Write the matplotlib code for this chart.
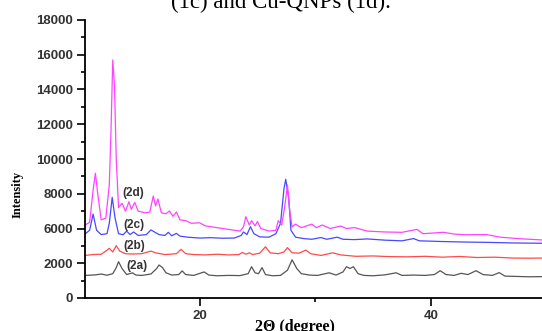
import numpy as np
import matplotlib
matplotlib.use("Agg")
from matplotlib import pyplot as plt
from matplotlib.ticker import MultipleLocator

# y values are in axis-position units (the printed tick labels skip 4000)
ytick_pos = [0, 2000, 4000, 6000, 8000, 10000, 12000, 14000, 16000]
ytick_labels = ["0", "2000", "6000", "8000", "10000", "12000", "14000", "16000", "18000"]

x_2a = [10.1, 11.0, 11.5, 12.0, 12.5, 12.8, 13.0, 13.3, 13.7, 14.2, 14.5, 15.0, 15.8, 16.3, 16.5,
        16.8, 17.1, 17.6, 18.2, 18.5, 18.8, 19.5, 20.4, 20.8, 21.5, 22.5, 23.5, 24.2, 24.5, 24.8,
        25.1, 25.4, 25.7, 26.3, 27.0, 27.6, 28.0, 28.4, 28.8, 29.5, 30.2, 31.2, 31.8, 32.4, 32.7,
        33.0, 33.3, 33.7, 34.2, 35.0, 36.0, 37.0, 37.5, 38.5, 39.5, 40.3, 40.8, 41.3, 42.0, 42.6,
        43.2, 43.9, 44.5, 45.3, 45.9, 46.4, 47.5, 48.5, 49.6]
y_2a = [1300, 1330, 1380, 1310, 1400, 1750, 2090, 1700, 1350, 1450, 1320, 1300, 1380, 1700, 1900,
        1750, 1450, 1320, 1350, 1560, 1350, 1300, 1500, 1320, 1280, 1300, 1290, 1400, 1800, 1450,
        1400, 1750, 1350, 1280, 1300, 1600, 2200, 1700, 1400, 1320, 1300, 1450, 1320, 1500, 1800,
        1700, 1800, 1400, 1300, 1280, 1330, 1450, 1300, 1320, 1300, 1350, 1570, 1350, 1300, 1420,
        1350, 1570, 1350, 1300, 1460, 1260, 1240, 1220, 1230]

x_2b = [10.1, 10.8, 11.5, 11.9, 12.2, 12.5, 12.8, 13.1, 13.6, 14.2, 15.0, 15.8, 16.2, 17.0, 18.0,
        18.4, 18.8, 19.5, 20.5, 21.5, 22.5, 23.4, 23.7, 24.0, 24.3, 24.6, 25.2, 25.7, 26.1, 26.8,
        27.3, 27.6, 28.0, 28.6, 29.2, 29.6, 30.5, 31.5, 32.2, 33.5, 35.0, 36.5, 38.0, 39.5, 41.0,
        42.5, 44.0, 45.5, 47.0, 48.5, 49.6]
y_2b = [2450, 2500, 2520, 2700, 2860, 2650, 3010, 2700, 2550, 2530, 2550, 2700, 2600, 2500, 2550,
        2800, 2550, 2500, 2480, 2520, 2480, 2500, 2620, 2520, 2600, 2500, 2580, 2950, 2600, 2550,
        2650, 2900, 2600, 2580, 2760, 2550, 2450, 2600, 2480, 2400, 2420, 2380, 2370, 2400, 2350,
        2390, 2330, 2350, 2300, 2290, 2300]

x_2c = [10.1, 10.5, 10.8, 11.1, 11.5, 12.0, 12.2, 12.45, 12.7, 13.0, 13.4, 13.7, 14.0, 14.3, 14.7,
        15.4, 15.8, 16.1, 16.5, 17.0, 17.3, 17.6, 18.0, 18.3, 19.0, 20.0, 21.0, 22.0, 23.0, 23.6,
        23.8, 24.1, 24.4, 24.7, 25.2, 26.0, 26.6, 27.0, 27.3, 27.45, 27.7, 27.9, 28.3, 29.0, 29.7,
        30.5, 31.0, 31.9, 32.4, 33.4, 34.5, 36.0, 37.5, 38.5, 39.0, 41.0, 43.0, 45.0, 47.0, 49.6]
y_2c = [3680, 3900, 4830, 3900, 3650, 3700, 4300, 5790, 4600, 3700, 3640, 3850, 3650, 3800, 3600,
        3650, 3920, 3800, 3650, 3600, 3780, 3580, 3720, 3560, 3500, 3450, 3470, 3440, 3450, 3600,
        3800, 3650, 4100, 3700, 3520, 3500, 3700, 4300, 6300, 6830, 5800, 3900, 3500, 3420, 3380,
        3480, 3380, 3500, 3380, 3360, 3400, 3330, 3290, 3420, 3290, 3250, 3220, 3200, 3170, 3150]

x_2d = [10.1, 10.5, 10.8, 11.0, 11.2, 11.5, 11.9, 12.2, 12.35, 12.5, 12.65, 12.8, 13.0, 13.3, 13.6,
        13.9, 14.1, 14.4, 14.7, 15.3, 15.7, 16.0, 16.2, 16.4, 16.7, 17.1, 17.4, 17.7, 18.0, 18.3,
        18.8, 19.3, 20.0, 20.5, 21.5, 22.5, 23.5, 23.8, 24.0, 24.3, 24.5, 24.8, 25.0, 25.3, 26.0,
        26.6, 26.8, 27.1, 27.35, 27.6, 27.8, 28.0, 28.3, 28.8, 29.7, 30.1, 30.6, 31.3, 32.2, 32.7,
        33.4, 34.5, 36.0, 37.5, 38.8, 39.3, 40.4, 41.1, 42.0, 43.0, 44.8, 46.0, 47.5, 49.6]
y_2d = [4200, 4350, 6200, 7180, 6000, 4500, 4600, 6500, 9700, 13700, 12200, 8000, 5200, 5450, 5000,
        5540, 5100, 5500, 5000, 4900, 4950, 5870, 5300, 5700, 4900, 4850, 5010, 4700, 4950, 4500,
        4450, 4300, 4330, 4150, 4050, 3950, 3850, 4100, 4680, 4200, 4450, 4150, 4400, 4000, 3850,
        3900, 4450, 4200, 5200, 6500, 5000, 4100, 4250, 4050, 4250, 4050, 4200, 4000, 4140, 4000,
        4050, 3850, 3800, 3780, 3950, 3700, 3750, 3780, 3680, 3640, 3650, 3500, 3420, 3340]

curve_labels = ["(2a)", "(2b)", "(2c)", "(2d)"]
label_x = [14.6, 14.35, 14.35, 14.25]
label_y = [1860, 3010, 4180, 6060]

fig = plt.figure(figsize=(5.42, 3.31), dpi=100)
ax = fig.add_axes([85 / 542, 33 / 331, 1 - 85 / 542, 278 / 331])

ax.plot(x_2a, y_2a, color="#555555", lw=0.9)
ax.plot(x_2b, y_2b, color="#ff4a4a", lw=0.9)
ax.plot(x_2c, y_2c, color="#4848ff", lw=0.9)
ax.plot(x_2d, y_2d, color="#ff44ff", lw=0.9)

for t, lx, ly in zip(curve_labels, label_x, label_y):
    ax.text(lx, ly, t, ha="center", va="center", fontsize=8.5, fontweight="bold",
            family="Liberation Sans", color="#333333")

ax.set_xlim(10.1, 49.6)
ax.set_ylim(0, 16000)
ax.set_xticks([20, 40])
ax.xaxis.set_minor_locator(MultipleLocator(10))
ax.set_yticks(ytick_pos)
ax.set_yticklabels(ytick_labels)
ax.yaxis.set_minor_locator(MultipleLocator(1000))

for s in ["top", "right"]:
    ax.spines[s].set_visible(False)
for s in ["left", "bottom"]:
    ax.spines[s].set_linewidth(1.3)

ax.tick_params(which="major", direction="out", length=5.5, width=1.2, pad=3,
               labelsize=9.5, labelcolor="#333333")
ax.tick_params(which="minor", direction="out", length=3, width=1.2)
for lab in ax.get_xticklabels() + ax.get_yticklabels():
    lab.set_fontweight("bold")
    lab.set_family("Liberation Sans")

fig.text(18 / 542, 1 - 194 / 331, "Intensity", rotation=90, ha="center", va="center",
         fontsize=9, fontweight="bold", family="Liberation Serif")
fig.text(295 / 542, 1 - 319 / 331, "2\u0398 (degree)", ha="center", va="top",
         fontsize=11.5, fontweight="bold", family="Liberation Serif")
fig.text(281 / 542, 1 - 8 / 331, "(1c) and Cu-QNPs (1d).", ha="center", va="baseline",
         fontsize=16.5, family="Liberation Serif")

fig.savefig("out.png", dpi=100)
